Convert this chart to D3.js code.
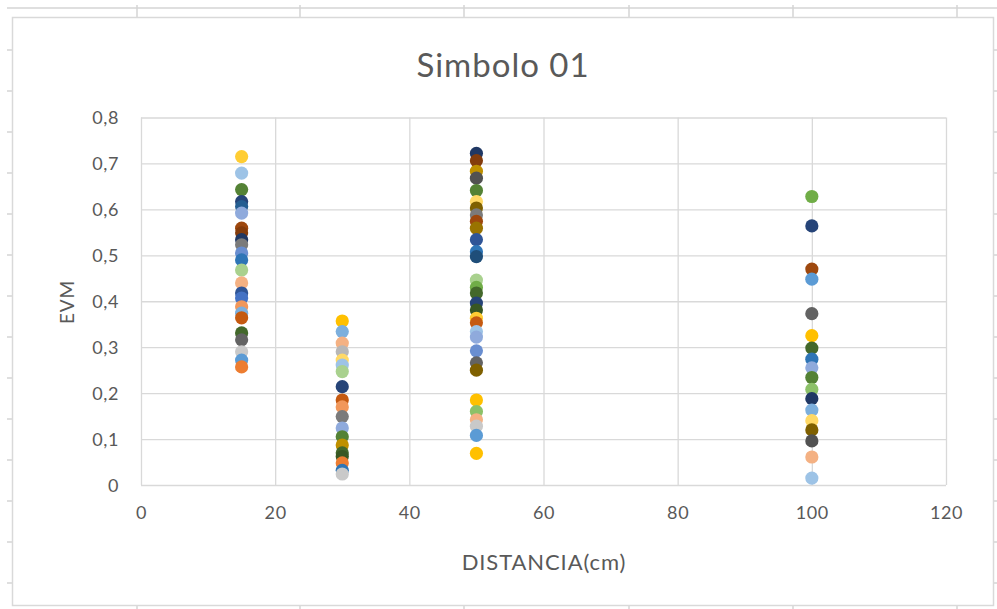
<!DOCTYPE html>
<html>
<head>
<meta charset="utf-8">
<script src="https://cdn.jsdelivr.net/npm/d3@7"></script>
<style>
  html, body { margin: 0; padding: 0; background: #fff; }
  svg { display: block; }
  text { font-family: Lato, "Open Sans", sans-serif; fill: #595959; }
</style>
</head>
<body>
<svg id="chart" width="997" height="609"></svg>
<script>
// EVM measurements per distance (cm); seriesN gives the run each point belongs to
const distances = [15, 30, 50, 100];

const evm15 = [0.715, 0.679, 0.643, 0.617, 0.606, 0.592, 0.559, 0.549, 0.534, 0.523, 0.505, 0.490,
               0.468, 0.440, 0.418, 0.407, 0.388, 0.374, 0.364, 0.331, 0.316, 0.290, 0.272, 0.257];
const series15 = [16, 29, 24, 7, 11, 25, 8, 32, 31, 21, 13, 23,
                  30, 26, 19, 1, 14, 17, 20, 12, 9, 27, 5, 2];

const evm30 = [0.357, 0.334, 0.309, 0.290, 0.272, 0.261, 0.247, 0.214, 0.185, 0.170,
               0.149, 0.124, 0.105, 0.087, 0.070, 0.062, 0.048, 0.032, 0.024];
const series30 = [4, 17, 26, 15, 28, 29, 30, 7, 20, 14,
                  21, 25, 24, 22, 12, 36, 2, 23, 27];

const evm50 = [0.722, 0.706, 0.683, 0.668, 0.641, 0.617, 0.603, 0.588, 0.574, 0.559, 0.534,
               0.508, 0.497, 0.446, 0.430, 0.418, 0.396, 0.381, 0.363, 0.353, 0.334, 0.322,
               0.292, 0.266, 0.250, 0.185, 0.160, 0.142, 0.128, 0.108, 0.069];
const series50 = [31, 32, 22, 33, 24, 28, 34, 21, 8, 10, 19,
                  23, 35, 30, 6, 12, 7, 36, 16, 20, 29, 25,
                  13, 9, 34, 4, 18, 26, 27, 5, 4];

const evm100 = [0.628, 0.564, 0.470, 0.448, 0.373, 0.325, 0.298, 0.274, 0.255, 0.234,
                0.208, 0.188, 0.163, 0.140, 0.120, 0.096, 0.061, 0.015];
const series100 = [6, 7, 8, 5, 9, 4, 12, 23, 25, 24,
                   18, 31, 17, 28, 34, 33, 26, 29];

const xTicks = [0, 20, 40, 60, 80, 100, 120];
const xTickLabels = ["0", "20", "40", "60", "80", "100", "120"];
const yTicks = [0, 0.1, 0.2, 0.3, 0.4, 0.5, 0.6, 0.7, 0.8];
const yTickLabels = ["0", "0,1", "0,2", "0,3", "0,4", "0,5", "0,6", "0,7", "0,8"];

const chartTitle = "Simbolo 01";
const xTitle = "DISTANCIA(cm)";
const yTitle = "EVM";

// Office series palette: accents, then darker / lighter variants
const palette = [
  "#4472C4", "#ED7D31", "#A5A5A5", "#FFC000", "#5B9BD5", "#70AD47",
  "#264478", "#9E480E", "#636363", "#997300", "#255E91", "#43682B",
  "#698ED0", "#F1975A", "#B7B7B7", "#FFCD33", "#7CAFDD", "#8CC168",
  "#2F5597", "#C55A11", "#7B7B7B", "#BF9000", "#2E75B6", "#548235",
  "#8FAADC", "#F4B183", "#C9C9C9", "#FFD966", "#9DC3E6", "#A9D18E",
  "#203864", "#843C0C", "#525252", "#7F6000", "#1F4E79", "#385723"
];
const colorOf = s => palette[(s - 1) % palette.length];

const svg = d3.select("#chart");
const W = 997, H = 609;

// Worksheet grid behind the chart object
const sheet = svg.append("g").attr("stroke", "#d4d4d4").attr("stroke-width", 1.5).attr("fill", "none");
sheet.append("line").attr("x1", 7).attr("x2", W).attr("y1", 8).attr("y2", 8);
const sheetCols = [137, 300, 464, 629, 793, 957];
sheetCols.forEach(c => {
  sheet.append("line").attr("x1", c).attr("x2", c).attr("y1", 5).attr("y2", 17);
  sheet.append("line").attr("x1", c).attr("x2", c).attr("y1", 605).attr("y2", H);
});
d3.range(14).forEach(k => {
  const ry = 50 + k * 41;
  sheet.append("line").attr("x1", 7).attr("x2", 12).attr("y1", ry).attr("y2", ry);
  sheet.append("line").attr("x1", 993).attr("x2", W).attr("y1", ry).attr("y2", ry);
});

// Chart area
svg.append("rect")
  .attr("x", 12.5).attr("y", 17.5).attr("width", 981).attr("height", 588)
  .attr("fill", "#fff").attr("stroke", "#d9d9d9").attr("stroke-width", 1.5);

const plot = { left: 141, right: 946, top: 117.5, bottom: 485 };
const x = d3.scaleLinear().domain([0, 120]).range([plot.left, plot.right]);
const y = d3.scaleLinear().domain([0, 0.8]).range([plot.bottom, plot.top]);

// Gridlines
const gx = svg.append("g")
  .attr("transform", `translate(0,${plot.bottom})`)
  .call(d3.axisBottom(x).tickValues(xTicks).tickSize(-(plot.bottom - plot.top)).tickFormat(""));
const gy = svg.append("g")
  .attr("transform", `translate(${plot.left},0)`)
  .call(d3.axisLeft(y).tickValues(yTicks).tickSize(-(plot.right - plot.left)).tickFormat(""));
[gx, gy].forEach(g => {
  g.select(".domain").remove();
  g.selectAll(".tick line").attr("stroke", "#d9d9d9").attr("stroke-width", 1.3);
});

// Tick labels
const ax = svg.append("g")
  .attr("transform", `translate(0,${plot.bottom + 21})`)
  .call(d3.axisBottom(x).tickValues(xTicks).tickSize(0).tickFormat((d, i) => xTickLabels[i]));
const ay = svg.append("g")
  .attr("transform", `translate(${plot.left - 22},0)`)
  .call(d3.axisLeft(y).tickValues(yTicks).tickSize(0).tickFormat((d, i) => yTickLabels[i]));
[ax, ay].forEach(g => {
  g.select(".domain").remove();
  g.selectAll("text").attr("font-size", 18).attr("fill", "#595959")
    .style("font-family", "Lato, 'Open Sans', sans-serif")
    .style("letter-spacing", "0.6px");
});
ax.selectAll("text").attr("y", 0);
ay.selectAll("text").attr("x", 0).attr("dy", "0.35em");

// Points
const columns = [
  { d: distances[0], v: evm15, s: series15 },
  { d: distances[1], v: evm30, s: series30 },
  { d: distances[2], v: evm50, s: series50 },
  { d: distances[3], v: evm100, s: series100 }
];
const points = columns.flatMap(c => c.v.map((v, i) => ({ x: c.d, y: v, s: c.s[i] })));

svg.append("g").selectAll("circle")
  .data(points)
  .join("circle")
  .attr("cx", d => x(d.x))
  .attr("cy", d => y(d.y))
  .attr("r", 6.6)
  .attr("fill", d => colorOf(d.s));

// Titles
svg.append("text")
  .attr("x", 503).attr("y", 64)
  .attr("text-anchor", "middle").attr("dominant-baseline", "central")
  .attr("font-size", 33)
  .style("letter-spacing", "1px")
  .text(chartTitle);

svg.append("text")
  .attr("x", 544).attr("y", 561)
  .attr("text-anchor", "middle").attr("dominant-baseline", "central")
  .attr("font-size", 22)
  .style("letter-spacing", "0.9px")
  .text(xTitle);

svg.append("text")
  .attr("transform", "translate(66,302) rotate(-90)")
  .attr("text-anchor", "middle").attr("dominant-baseline", "central")
  .attr("font-size", 19)
  .style("letter-spacing", "0.8px")
  .text(yTitle);
</script>
</body>
</html>
